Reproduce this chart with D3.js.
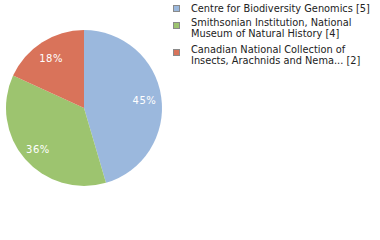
<!DOCTYPE html>
<html>
<head>
<meta charset="utf-8">
<script src="https://cdn.jsdelivr.net/npm/d3@7"></script>
<style>
  body { margin: 0; background: #fff; }
  text { font-family: "DejaVu Sans", sans-serif; }
</style>
</head>
<body>
<svg id="chart" width="380" height="240"></svg>
<script>
// data
const institutions = [
  'Centre for Biodiversity Genomics',
  'Smithsonian Institution, National Museum of Natural History',
  'Canadian National Collection of Insects, Arachnids and Nematodes'
];
const counts = [5, 4, 2];
const legendLines = [
  ['Centre for Biodiversity Genomics [5]'],
  ['Smithsonian Institution, National', 'Museum of Natural History [4]'],
  ['Canadian National Collection of', 'Insects, Arachnids and Nema... [2]']
];
const colors = ['#9bb8dd', '#9dc46f', '#d9735a'];

const svg = d3.select('#chart');
const cx = 84, cy = 108, radius = 78;

const total = d3.sum(counts);
const pie = d3.pie().sort(null).value(d => d);
const arcs = pie(counts);
const arc = d3.arc().innerRadius(0).outerRadius(radius);
const labelArc = d3.arc().innerRadius(61).outerRadius(61);

const g = svg.append('g').attr('transform', `translate(${cx},${cy})`);

g.selectAll('path')
  .data(arcs)
  .enter()
  .append('path')
  .attr('d', arc)
  .attr('fill', (d, i) => colors[i]);

g.selectAll('text')
  .data(arcs)
  .enter()
  .append('text')
  .attr('transform', d => `translate(${labelArc.centroid(d)})`)
  .attr('text-anchor', 'middle')
  .attr('dy', '0.5em')
  .attr('fill', '#fff')
  .attr('font-size', '10px')
  .attr('letter-spacing', '0.5px')
  .text(d => Math.round(d.value / total * 100) + '%');

// legend: each entry's top, first baseline at +12, next lines 11px below
const legendY = [0, 14, 41];
const legend = svg.append('g').attr('transform', 'translate(173,0)');
const items = legend.selectAll('g')
  .data(legendLines)
  .enter()
  .append('g')
  .attr('transform', (d, i) => `translate(0,${legendY[i]})`);

items.append('rect')
  .attr('x', 0.5)
  .attr('y', d => d.length > 1 ? 8.5 : 5.5)
  .attr('width', 6)
  .attr('height', 6)
  .attr('fill', (d, i) => colors[i])
  .attr('stroke', '#8a8a8a');

items.selectAll('text')
  .data(d => d)
  .enter()
  .append('text')
  .attr('x', 18)
  .attr('y', (d, j) => 12 + j * 11)
  .attr('font-size', '9.8px')
  .attr('fill', '#222')
  .text(d => d);
</script>
</body>
</html>
